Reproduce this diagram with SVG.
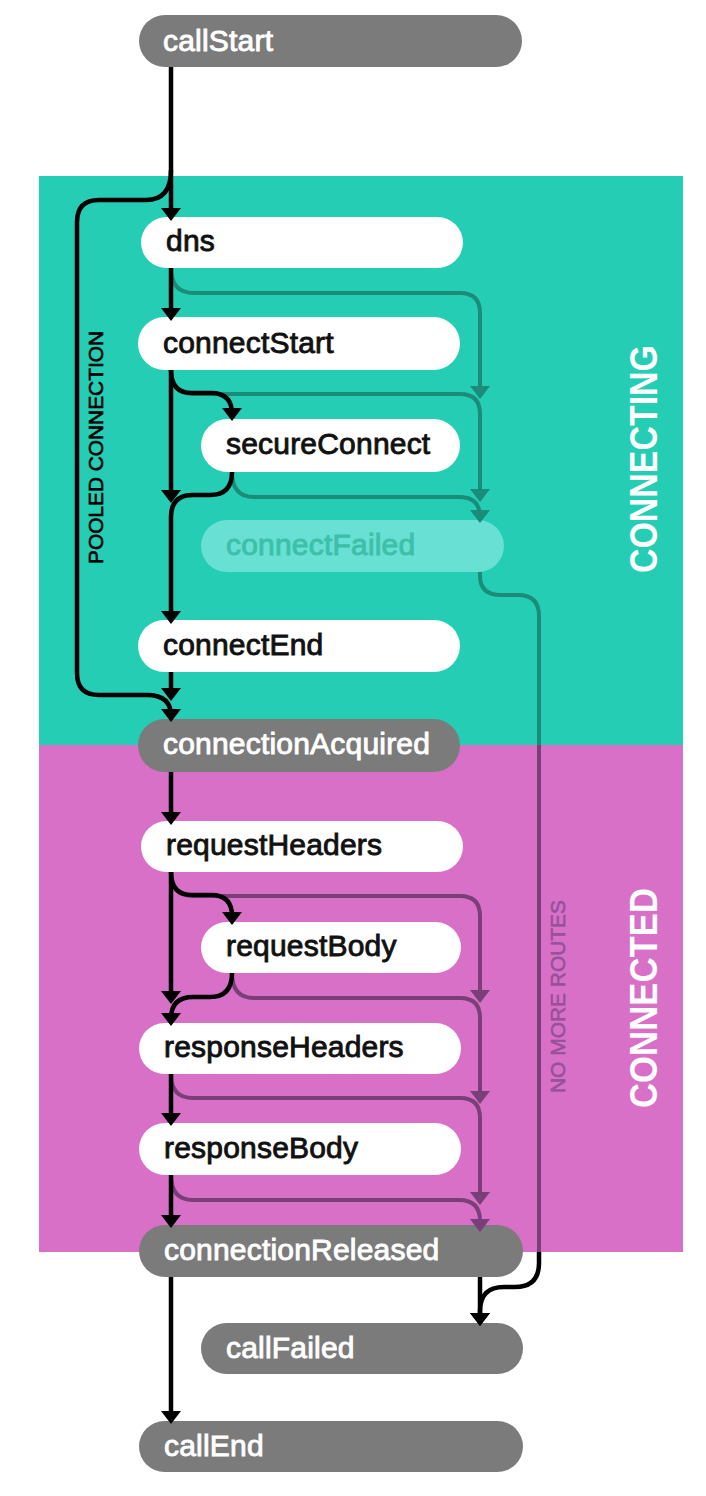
<svg xmlns="http://www.w3.org/2000/svg" width="706" height="1496" viewBox="0 0 706 1496">
  <style>
    .pill-dark { fill: #7b7b7b; }
    .pill-light { fill: #ffffff; }
    .pill-faded { fill: #68e0d4; }
    .lbl { font-family: "Liberation Sans", Arial, sans-serif; font-size: 30px; letter-spacing: 0.2px; stroke-width: 0.9px; }
    .lbl-w { fill: #ffffff; stroke: #ffffff; }
    .lbl-b { fill: #111111; stroke: #111111; }
    .lbl-f { fill: #3dbfa9; stroke: #3dbfa9; }
    .flow { fill: none; stroke: #000000; stroke-width: 4.5; stroke-linecap: butt; stroke-linejoin: round; }
    .fail-t { fill: none; stroke: #1b8b7a; stroke-width: 4; stroke-linecap: butt; }
    .fail-p { fill: none; stroke: #7a3e78; stroke-width: 4; stroke-linecap: butt; }
    .phase { font-family: "Liberation Sans", Arial, sans-serif; font-weight: 700; font-size: 38px; fill: #ffffff; }
    .side { font-family: "Liberation Sans", Arial, sans-serif; font-size: 21px; stroke-width: 0.6px; }
  </style>
  <defs>
    <marker id="arrow-k" viewBox="-7 -10 13 20" refX="0" refY="0" markerWidth="13" markerHeight="20" markerUnits="userSpaceOnUse" orient="auto">
      <path d="M-7,-10 L6,0 L-7,10 Z" fill="#000000"/>
    </marker>
    <marker id="arrow-t" viewBox="-7 -10 13 20" refX="0" refY="0" markerWidth="13" markerHeight="20" markerUnits="userSpaceOnUse" orient="auto">
      <path d="M-7,-10 L6,0 L-7,10 Z" fill="#1b8b7a"/>
    </marker>
    <marker id="arrow-p" viewBox="-7 -10 13 20" refX="0" refY="0" markerWidth="13" markerHeight="20" markerUnits="userSpaceOnUse" orient="auto">
      <path d="M-7,-10 L6,0 L-7,10 Z" fill="#7a3e78"/>
    </marker>
  </defs>

  <!-- phase panels -->
  <g id="phases">
    <rect x="39" y="176" width="644" height="569" fill="#25cdb5"/>
    <rect x="39" y="745" width="644" height="507" fill="#d870c8"/>
  </g>

  <!-- events -->
  <g id="callStart">
    <rect class="pill-dark" x="139" y="15" width="383" height="52" rx="26"/>
    <text class="lbl lbl-w" x="163" y="51">callStart</text>
  </g>
  <g id="dns">
    <rect class="pill-light" x="141" y="217" width="322" height="51" rx="25.5"/>
    <text class="lbl lbl-b" x="166" y="251">dns</text>
  </g>
  <g id="connectStart">
    <rect class="pill-light" x="138" y="317" width="322" height="53" rx="26.5"/>
    <text class="lbl lbl-b" x="163" y="353">connectStart</text>
  </g>
  <g id="secureConnect">
    <rect class="pill-light" x="201" y="419" width="259" height="53" rx="26.5"/>
    <text class="lbl lbl-b" x="226" y="454">secureConnect</text>
  </g>
  <g id="connectFailed">
    <rect class="pill-faded" x="201" y="520" width="303" height="52" rx="26"/>
    <text class="lbl lbl-f" x="226" y="555">connectFailed</text>
  </g>
  <g id="connectEnd">
    <rect class="pill-light" x="138" y="620" width="322" height="52" rx="26"/>
    <text class="lbl lbl-b" x="163" y="655">connectEnd</text>
  </g>
  <g id="connectionAcquired">
    <rect class="pill-dark" x="138" y="719" width="322" height="53" rx="26.5"/>
    <text class="lbl lbl-w" x="163" y="754">connectionAcquired</text>
  </g>
  <g id="requestHeaders">
    <rect class="pill-light" x="141" y="821" width="322" height="51" rx="25.5"/>
    <text class="lbl lbl-b" x="166" y="855">requestHeaders</text>
  </g>
  <g id="requestBody">
    <rect class="pill-light" x="201" y="922" width="260" height="51" rx="25.5"/>
    <text class="lbl lbl-b" x="226" y="956">requestBody</text>
  </g>
  <g id="responseHeaders">
    <rect class="pill-light" x="139" y="1023" width="322" height="51" rx="25.5"/>
    <text class="lbl lbl-b" x="164" y="1057">responseHeaders</text>
  </g>
  <g id="responseBody">
    <rect class="pill-light" x="139" y="1123" width="322" height="52" rx="26"/>
    <text class="lbl lbl-b" x="164" y="1158">responseBody</text>
  </g>
  <g id="connectionReleased">
    <rect class="pill-dark" x="139" y="1225" width="384" height="52" rx="26"/>
    <text class="lbl lbl-w" x="164" y="1260">connectionReleased</text>
  </g>
  <g id="callFailed">
    <rect class="pill-dark" x="201" y="1323" width="322" height="51" rx="25.5"/>
    <text class="lbl lbl-w" x="226" y="1358">callFailed</text>
  </g>
  <g id="callEnd">
    <rect class="pill-dark" x="139" y="1421" width="384" height="51" rx="25.5"/>
    <text class="lbl lbl-w" x="164" y="1456">callEnd</text>
  </g>

  <!-- connectors -->
  <g id="connectors">
    <!-- failure routes, connecting phase -->
    <path class="fail-t" marker-end="url(#arrow-t)" d="M171,268 Q171,293 194,293 H460 Q480,293 480,313 V393"/>
    <path class="fail-t" marker-end="url(#arrow-t)" d="M171,370 Q171,394 193,394 H460 Q480,394 480,414 V496"/>
    <path class="fail-t" marker-end="url(#arrow-t)" d="M232,472 Q232,497 254,497 H459 Q480,497 480,517"/>
    <!-- failure routes, connected phase -->
    <path class="fail-p" marker-end="url(#arrow-p)" d="M171,872 Q171,896 193,896 H460 Q480,896 480,916 V997"/>
    <path class="fail-p" marker-end="url(#arrow-p)" d="M232,973 Q232,998 254,998 H460 Q480,998 480,1018 V1098"/>
    <path class="fail-p" marker-end="url(#arrow-p)" d="M171,1074 Q171,1098 193,1098 H460 Q480,1098 480,1118 V1199"/>
    <path class="fail-p" marker-end="url(#arrow-p)" d="M171,1175 Q171,1200 193,1200 H459 Q480,1200 480,1221 V1226"/>
    <!-- no more routes -->
    <path class="fail-t" d="M480,572 V576 Q480,595 501,595 H518 Q539,595 539,616 V745"/>
    <path class="fail-p" d="M539,745 V1252"/>
    <path class="flow" marker-end="url(#arrow-k)" d="M539,1252 V1263 Q539,1287 515,1287 H504 Q480,1287 480,1311 V1320"/>

    <!-- main flow -->
    <path class="flow" marker-end="url(#arrow-k)" d="M171,67 V215"/>
    <path class="flow" marker-end="url(#arrow-k)" d="M171,170 Q171,200 146,200 H99 Q77,200 77,222 V673 Q77,695 99,695 H147 Q171,695 171,716"/>
    <path class="flow" marker-end="url(#arrow-k)" d="M171,268 V315"/>
    <path class="flow" marker-end="url(#arrow-k)" d="M171,370 Q171,393 192,393 H211 Q232,393 232,414 V415"/>
    <path class="flow" marker-end="url(#arrow-k)" d="M171,370 V497"/>
    <path class="flow" marker-end="url(#arrow-k)" d="M232,472 Q232,495 210,495 H193 Q171,495 171,517 V618"/>
    <path class="flow" marker-end="url(#arrow-k)" d="M171,672 V695"/>
    <path class="flow" marker-end="url(#arrow-k)" d="M171,772 V819"/>
    <path class="flow" marker-end="url(#arrow-k)" d="M171,872 Q171,895 192,895 H211 Q232,895 232,916 V919"/>
    <path class="flow" marker-end="url(#arrow-k)" d="M171,872 V998"/>
    <path class="flow" marker-end="url(#arrow-k)" d="M232,973 Q232,997 210,997 H193 Q171,997 171,1019 V1020"/>
    <path class="flow" marker-end="url(#arrow-k)" d="M171,1074 V1120"/>
    <path class="flow" marker-end="url(#arrow-k)" d="M171,1175 V1222"/>
    <path class="flow" marker-end="url(#arrow-k)" d="M171,1277 V1418"/>
    <path class="flow" marker-end="url(#arrow-k)" d="M480,1277 V1320"/>
  </g>

  <!-- side labels -->
  <g id="labels">
    <text class="side" fill="#000000" stroke="#000000" transform="translate(103,564) rotate(-90)" textLength="233" lengthAdjust="spacingAndGlyphs">POOLED CONNECTION</text>
    <text class="side" fill="#97509a" stroke="#97509a" transform="translate(565,1093) rotate(-90)" textLength="193" lengthAdjust="spacingAndGlyphs">NO MORE ROUTES</text>
    <text class="phase" transform="translate(657,573) rotate(-90)" textLength="228" lengthAdjust="spacingAndGlyphs">CONNECTING</text>
    <text class="phase" transform="translate(657,1108) rotate(-90)" textLength="220" lengthAdjust="spacingAndGlyphs">CONNECTED</text>
  </g>
</svg>
